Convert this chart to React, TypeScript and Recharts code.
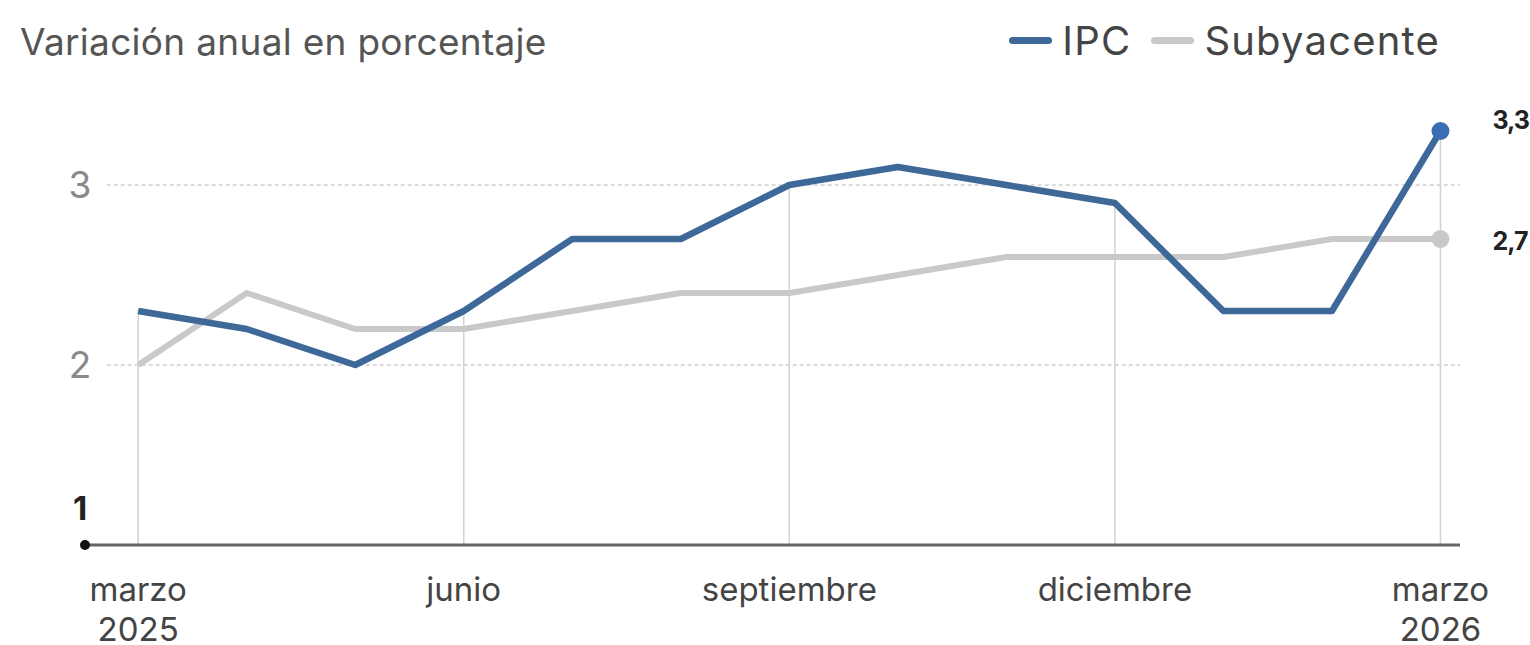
import { LineChart, Line, XAxis, YAxis, ReferenceLine, ReferenceDot } from 'recharts';

const months = ['mar 2025', 'abr', 'may', 'jun', 'jul', 'ago', 'sep', 'oct', 'nov', 'dic', 'ene', 'feb', 'mar 2026'];
const ipc = [2.3, 2.2, 2.0, 2.3, 2.7, 2.7, 3.0, 3.1, 3.0, 2.9, 2.3, 2.3, 3.3];
const subyacente = [2.0, 2.4, 2.2, 2.2, 2.3, 2.4, 2.4, 2.5, 2.6, 2.6, 2.6, 2.7, 2.7];
const xTicks = [0, 3, 6, 9, 12];
const xTickLabels = [['marzo', '2025'], ['junio'], ['septiembre'], ['diciembre'], ['marzo', '2026']];
const yTicks = [1, 2, 3];

const IPC_COLOR = '#3d6898';
const SUB_COLOR = '#c9c9c9';
const FONT = 'Inter, "Open Sans", sans-serif';

const data = months.map((m, i) => ({ i, month: m, ipc: ipc[i], sub: subyacente[i] }));
const last = data.length - 1;

const XTick = (props: any) => {
  const { x, y, payload } = props;
  const lines = xTickLabels[xTicks.indexOf(payload.value)] || [];
  return (
    <text x={x} y={y + 48} textAnchor="middle" fontSize={33} fill="#444" fontFamily={FONT}>
      {lines.map((l, k) => (
        <tspan key={k} x={x} dy={k === 0 ? 0 : 40}>{l}</tspan>
      ))}
    </text>
  );
};

const YTick = (props: any) => {
  const { y, payload } = props;
  if (payload.value === 1) {
    return (
      <text x={80} y={y - 25} textAnchor="middle" fontSize={33} fontWeight={700} fill="#222" fontFamily={FONT}>1</text>
    );
  }
  return (
    <text x={80} y={y + 13} textAnchor="middle" fontSize={37} fill="#8a8a8a" fontFamily={FONT}>{payload.value}</text>
  );
};

const endDot = (color: string) => (props: any) => {
  const { cx, cy, index } = props;
  if (index !== last) return <g key={index} />;
  return <circle key={index} cx={cx} cy={cy} r={9} fill={color} />;
};

const endLabel = (dy: number) => (props: any) => {
  const { x, y, index, value } = props;
  if (index !== last) return null;
  return (
    <text x={x + 52} y={y + dy} fontSize={25} fontWeight={700} fill="#222" fontFamily={FONT} letterSpacing={-1}>
      {String(value).replace('.', ',')}
    </text>
  );
};

const series = [
  { name: 'IPC', color: IPC_COLOR },
  { name: 'Subyacente', color: SUB_COLOR },
];

export default function App() {
  return (
    <div style={{ position: 'absolute', left: 0, top: 0, width: 1530, height: 645, background: '#fff', overflow: 'hidden' }}>
      <div style={{ position: 'absolute', left: 20, top: 19, fontFamily: FONT, fontSize: 37, color: '#555', whiteSpace: 'nowrap', letterSpacing: 0.3 }}>
        Variación anual en porcentaje
      </div>
      <div style={{ position: 'absolute', right: 90, top: 16, display: 'flex', alignItems: 'center', fontFamily: FONT, fontSize: 40, color: '#444', letterSpacing: 1.2 }}>
        {series.map((s, k) => (
          <span key={s.name} style={{ display: 'flex', alignItems: 'center', marginRight: k === 0 ? 20 : 0 }}>
            <span style={{ display: 'inline-block', width: 43, height: 7, borderRadius: 4, background: s.color, marginRight: 10 }} />
            <span>{s.name}</span>
          </span>
        ))}
      </div>
      <LineChart width={1530} height={645} data={data} margin={{ top: 113, right: 70, bottom: 0, left: 0 }}>
        <XAxis
          type="number"
          dataKey="i"
          domain={[-0.49, 12.18]}
          ticks={xTicks}
          allowDataOverflow
          tickLine={false}
          axisLine={{ stroke: '#666', strokeWidth: 3 }}
          tick={<XTick />}
          height={100}
        />
        <YAxis
          type="number"
          domain={[1, 3.4]}
          ticks={yTicks}
          allowDataOverflow
          width={85}
          axisLine={false}
          tickLine={false}
          tick={<YTick />}
        />
        {[2, 3].map((v) => (
          <ReferenceLine
            key={v}
            segment={[{ x: -0.29, y: v }, { x: 12.18, y: v }]}
            stroke="#cfcfcf"
            strokeWidth={1.5}
            strokeDasharray="4 3"
          />
        ))}
        {xTicks.map((t) => (
          <ReferenceLine
            key={'v' + t}
            segment={[{ x: t, y: 1 }, { x: t, y: Math.max(ipc[t], subyacente[t]) }]}
            stroke="#d2d2d2"
            strokeWidth={1.5}
          />
        ))}
        <ReferenceDot x={-0.49} y={1} r={5} fill="#111" stroke="none" ifOverflow="visible" />
        <Line
          type="linear"
          dataKey="sub"
          name="Subyacente"
          stroke={SUB_COLOR}
          strokeWidth={6}
          strokeLinejoin="round"
          dot={endDot(SUB_COLOR)}
          activeDot={false}
          label={endLabel(11)}
          isAnimationActive={false}
        />
        <Line
          type="linear"
          dataKey="ipc"
          name="IPC"
          stroke={IPC_COLOR}
          strokeWidth={6.5}
          strokeLinejoin="round"
          dot={endDot('#3b6db3')}
          activeDot={false}
          label={endLabel(-2)}
          isAnimationActive={false}
        />
      </LineChart>
    </div>
  );
}
